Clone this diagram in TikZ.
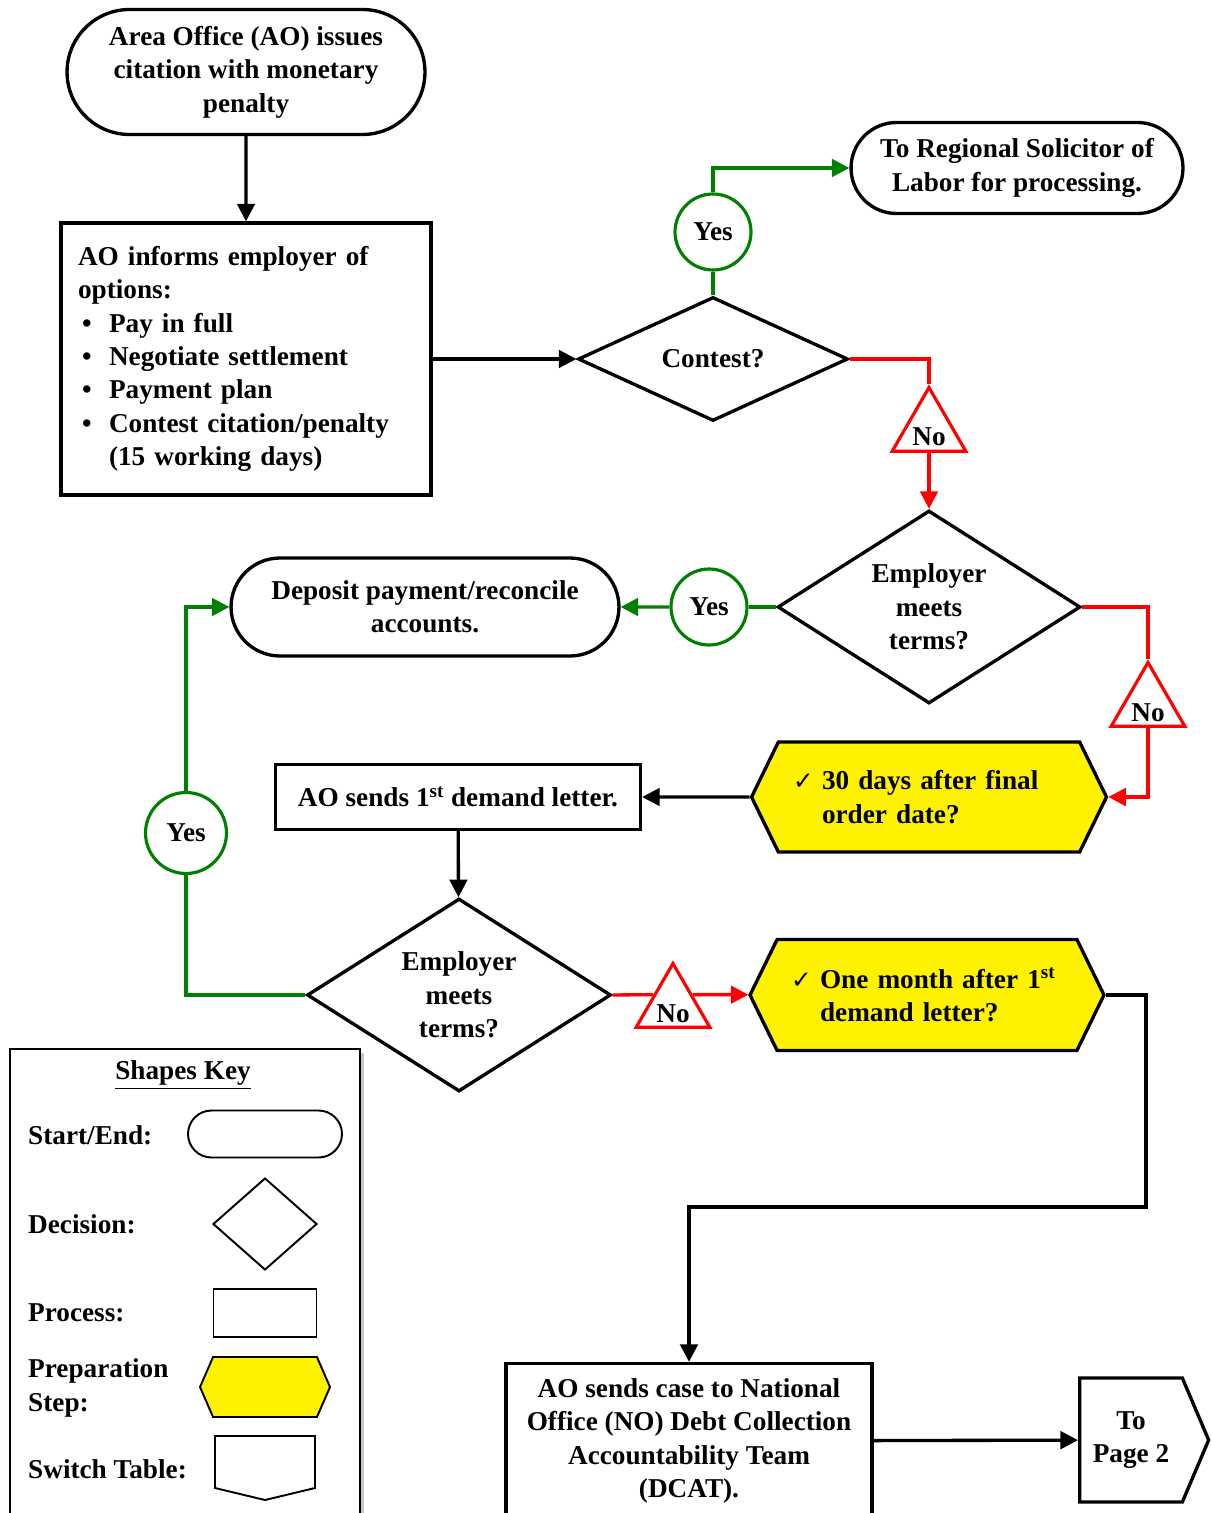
\documentclass[tikz,border=0pt]{standalone}
\usepackage{fontspec}
\setmainfont{Liberation Serif}
\newfontfamily\checkfont{DejaVu Sans}
\usetikzlibrary{shapes.geometric, shapes.misc, shapes.symbols, arrows.meta, shadows}

\newcommand{\bul}{\makebox[0.62cm][l]{\hspace{0.08cm}\textbullet}}
\newcommand{\tick}{\makebox[0.58cm][l]{\checkfont\fontsize{14}{14}\selectfont ✓}}
\newcommand{\marktext}[1]{\raisebox{-0.32cm}[0pt][0pt]{\makebox[0pt]{#1}}}
\definecolor{flowgreen}{RGB}{0,128,0}

\begin{document}
\begin{tikzpicture}[
    x=0.02cm, y=-0.02cm,
    base/.style={draw, line width=1.9pt, align=center, inner sep=0pt, font=\fontsize{15.5}{19}\selectfont\bfseries},
    terminal/.style={base, rounded rectangle},
    process/.style={base, rectangle},
    decision/.style={base, diamond, aspect=1.6},
    prep/.style={base, signal, signal to=east and west, signal pointer angle=128, fill=yellow},
    switch/.style={base, signal, signal to=east, signal pointer angle=134},
    yesmark/.style={base, circle, draw=flowgreen, line width=1.8pt, fill=white, minimum size=1.52cm},
    nomark/.style={base, regular polygon, regular polygon sides=3, draw=red, line width=1.8pt, fill=white, minimum size=1.7cm},
    key/.style={line width=1.1pt},
    keylabel/.style={anchor=west, align=left, font=\fontsize{15.5}{19}\selectfont\bfseries},
    link/.style={line width=1.9pt},
    arrow/.style={link, -{Triangle[length=10pt, width=10pt]}},
    yeslink/.style={link, draw=flowgreen},
    yesarrow/.style={arrow, draw=flowgreen},
    nolink/.style={link, draw=red},
    noarrow/.style={arrow, draw=red}
]
    \useasboundingbox (0,0) rectangle (1212,1513);

    % Nodes
    \node (start) [terminal, minimum width=7.16cm, minimum height=2.5cm] at (246,72) {Area Office (AO) issues\\citation with monetary\\penalty};
    \node (options) [process, minimum width=7.4cm, minimum height=5.44cm, text width=6.72cm, align=left] at (246,359) {AO informs employer of\\options:\\\bul Pay in full\\\bul Negotiate settlement\\\bul Payment plan\\\bul Contest citation/penalty\\\hspace*{0.62cm}(15 working days)};
    \node (contest) [decision, aspect=2.2, minimum width=5.4cm, minimum height=2.48cm] at (713,359) {Contest?};
    \node (yes1) [yesmark] at (713,232) {Yes};
    \node (regional) [terminal, minimum width=6.64cm, minimum height=1.82cm] at (1017,168) {To Regional Solicitor of\\Labor for processing.};
    \node (no1) [nomark] at (929,430) {\marktext{No}};
    \node (meets1) [decision, minimum width=6.06cm, minimum height=3.86cm] at (929,607) {Employer\\meets\\terms?};
    \node (yes2) [yesmark] at (709,607) {Yes};
    \node (deposit) [terminal, minimum width=7.76cm, minimum height=1.96cm] at (425,607) {Deposit payment/reconcile\\accounts.};
    \node (no2) [nomark] at (1148,705) {\marktext{No}};
    \node (wait1) [prep, minimum width=7.1cm, minimum height=2.2cm, text width=5.44cm, align=left] at (929,797) {\tick30 days after final\\\hspace*{0.58cm}order date?};
    \node (letter1) [process, minimum width=7.3cm, minimum height=1.3cm] at (458,797) {AO sends 1\textsuperscript{st} demand letter.};
    \node (meets2) [decision, minimum width=6.08cm, minimum height=3.86cm] at (459,995) {Employer\\meets\\terms?};
    \node (yes3) [yesmark, minimum size=1.62cm] at (186,833) {Yes};
    \node (no3) [nomark] at (673,1006) {\marktext{No}};
    \node (wait2) [prep, minimum width=7.08cm, minimum height=2.22cm, text width=5.44cm, align=left] at (927,995) {\tick One month after 1\textsuperscript{st}\\\hspace*{0.58cm}demand letter?};
    \node (dcat) [process, minimum width=7.32cm, minimum height=3.1cm] at (689,1441) {AO sends case to National\\Office (NO) Debt Collection\\Accountability Team\\(DCAT).};
    \node (page2) [switch, minimum width=2.58cm, minimum height=2.48cm] at (1131,1440) {To\\Page 2};

    % Shapes key
    \node (legend) [draw, key, fill=white, drop shadow={opacity=0.45}, minimum width=7cm, minimum height=9.8cm, anchor=north west, inner sep=0pt] at (9,1048) {};
    \node (keytitle) [keylabel, anchor=center] at (183,1075) {\underline{Shapes Key}};
    \node (keystart) [keylabel] at (22,1135) {Start/End:};
    \node (keydecision) [keylabel] at (22,1224) {Decision:};
    \node (keyprocess) [keylabel] at (22,1313) {Process:};
    \node (keyprep) [keylabel] at (22,1388) {Preparation\\Step:};
    \node (keyswitch) [keylabel] at (22,1469) {Switch Table:};
    \node (keyterminal) [terminal, key, minimum width=3.08cm, minimum height=0.94cm] at (265,1134) {};
    \node (keydiamond) [decision, key, minimum width=2.08cm, minimum height=1.84cm] at (265,1224) {};
    \node (keybox) [process, key, minimum width=2.06cm, minimum height=0.96cm] at (265,1313) {};
    \node (keyhex) [prep, key, signal pointer angle=133, minimum width=2.6cm, minimum height=1.2cm] at (265,1387) {};
    \node (keyswitchshape) [switch, key, signal to=south, signal pointer angle=153, minimum width=2cm, minimum height=1.04cm] at (265,1462) {};

    % Paths
    \draw [arrow] (start) -- (options);
    \draw [arrow] (options) -- (contest);
    \draw [yeslink] (contest) -- (yes1);
    \draw [yesarrow] (yes1) |- (regional);
    \draw [nolink] (contest) -| (no1);
    \draw [noarrow] (no1) -- (meets1);
    \draw [yeslink] (meets1) -- (yes2);
    \draw [yesarrow] (yes2) -- (deposit);
    \draw [nolink] (meets1) -| (no2);
    \draw [noarrow] (no2) |- (wait1);
    \draw [arrow] (wait1) -- (letter1);
    \draw [arrow] (letter1) -- (meets2);
    \draw [yeslink] (meets2) -| (yes3);
    \draw [yesarrow] (yes3) |- (deposit);
    \draw [nolink] (meets2.east) -- (no3.side 1);
    \draw [noarrow] (no3.side 3) -- (wait2);
    \coordinate (turn) at (1146,1207);
    \draw [arrow] (wait2) -| (turn) -| (dcat);
    \draw [arrow] (dcat) -- (page2);
\end{tikzpicture}
\end{document}
